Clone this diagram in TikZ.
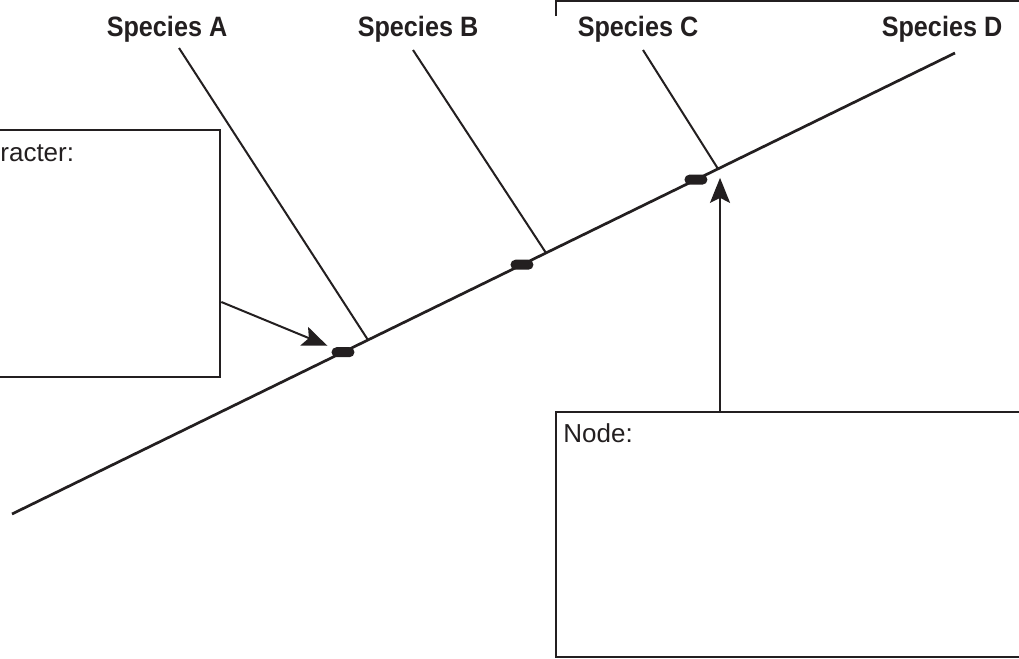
\documentclass[tikz,border=0pt]{standalone}
\usepackage{fontspec}
\setmainfont{Liberation Sans}
\newfontfamily\speciesfont{Liberation Sans}[FakeStretch=0.9]
\usetikzlibrary{arrows.meta,positioning,calc}
\definecolor{ink}{RGB}{35,31,32}

\begin{document}
\begin{tikzpicture}[x=0.5pt,y=-0.5pt,>=Stealth,
  species/.style={font=\speciesfont\bfseries\fontsize{14}{16}\selectfont,inner sep=0pt,anchor=base,text=ink},
  boxlabel/.style={font=\fontsize{13}{15}\selectfont,inner sep=0pt,anchor=base west,text=ink},
  infobox/.style={draw=ink,line width=1.35pt,rectangle,inner sep=0pt},
  charmark/.style={fill=ink,rectangle,rounded corners=2.5pt,minimum width=11.5pt,minimum height=5pt,inner sep=0pt},
  pointer/.style={-{Stealth[length=12.5pt,width=10pt,inset=2.5pt]},line width=1pt,draw=ink}]
  \useasboundingbox (0,0) rectangle (1019,659);
  \clip (0,0) rectangle (1019,659);
  % tree
  \coordinate (root) at (12,514);
  \coordinate (crown) at (955,53);
  \draw[ink,line width=1.35pt] (root) -- (crown);
  \node[species] (spA) at (167,36.5) {Species A};
  \node[species] (spB) at (418,36.5) {Species B};
  \node[species] (spC) at (638,36.5) {Species C};
  \node[species] (spD) at (942,36.5) {Species D};
  \coordinate (aTop) at (179,48);
  \coordinate (bTop) at (413,50);
  \coordinate (cTop) at (643,50);
  \coordinate (jA) at ($(root)!0.3775!(crown)$);
  \coordinate (jB) at ($(root)!0.5663!(crown)$);
  \coordinate (jC) at ($(root)!0.7487!(crown)$);
  \draw[ink,line width=1pt] (aTop) -- (jA);
  \draw[ink,line width=1pt] (bTop) -- (jB);
  \draw[ink,line width=1pt] (cTop) -- (jC);
  \node[charmark] (mA) at ($(root)!0.351!(crown)$) {};
  \node[charmark] (mB) at ($(root)!0.5408!(crown)$) {};
  \node[charmark] (mC) at ($(root)!0.7253!(crown)$) {};
  % bracket at the top
  \draw[ink,line width=1.35pt] (556,16) -- (556,1) -- (1030,1);
  % boxes
  \node[infobox,minimum width=115pt,minimum height=123.5pt] (charbox) at (105,253.5) {};
  \node[boxlabel] (chartext) at (0,161) {racter:};
  \node[infobox,minimum width=237pt,minimum height=122.5pt] (nodebox) at (793,534.5) {};
  \node[boxlabel] (nodetext) at (563,442) {Node:};
  % arrows
  \coordinate (charout) at ($(charbox.east)+(0,48.5)$);
  \draw[pointer,shorten >=2pt] (charout) -- (mA);
  \coordinate (tipC) at ($(jC)+(2,9)$);
  \draw[pointer] (nodebox.north -| tipC) -- (tipC);
\end{tikzpicture}
\end{document}
